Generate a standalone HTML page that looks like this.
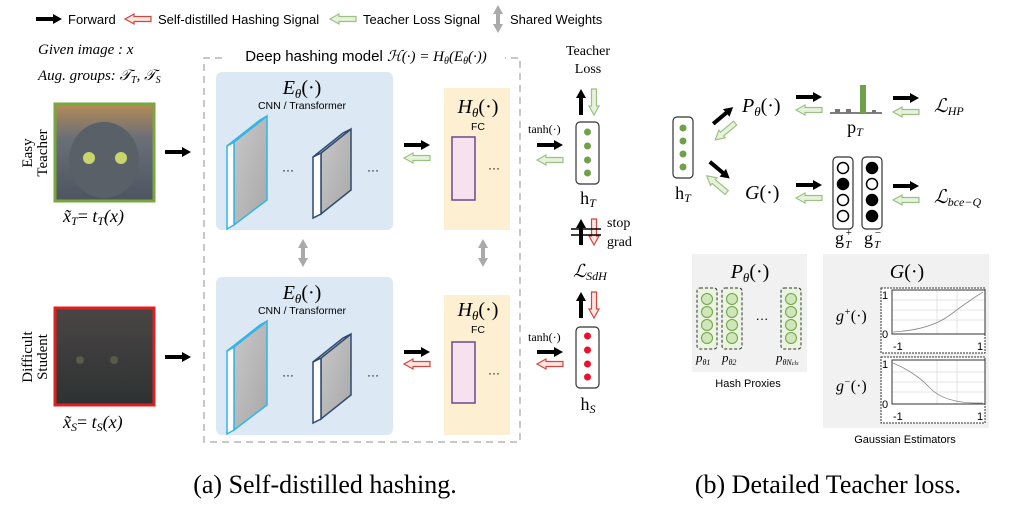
<!DOCTYPE html>
<html><head><meta charset="utf-8"><style>
html,body{margin:0;padding:0;background:#fff;}
svg{display:block;}
text{font-family:"Liberation Sans",sans-serif;}
.s{font-family:"Liberation Serif",serif;}
.i{font-family:"Liberation Serif",serif;font-style:italic;}
</style></head><body>
<svg width="1011" height="509" viewBox="0 0 1011 509" xmlns="http://www.w3.org/2000/svg">
<defs>
<polygon id="bk" points="0,3 17,3 17,0 26,5 17,10 17,7 0,7" fill="#000"/>
<polygon id="gl" points="26,2.5 9,2.5 9,0 0,5 9,10 9,7.5 26,7.5" fill="#e6f2dc" stroke="#9cc184" stroke-width="1.2"/>
<polygon id="rl" points="26,2.5 9,2.5 9,0 0,5 9,10 9,7.5 26,7.5" fill="#fde5e2" stroke="#d0473f" stroke-width="1.2"/>
<g id="gdbl"><polygon points="0,9 5,0 10,9 7,9 7,19 10,19 5,28 0,19 3,19 3,9" fill="#aaa"/></g>
<linearGradient id="cat1" x1="0" y1="0" x2="0" y2="1"><stop offset="0" stop-color="#b58b55"/><stop offset="0.35" stop-color="#6a6f78"/><stop offset="1" stop-color="#4d5560"/></linearGradient>
<linearGradient id="cat2" x1="0" y1="0" x2="0" y2="1"><stop offset="0" stop-color="#4a4545"/><stop offset="1" stop-color="#2e3232"/></linearGradient>
<linearGradient id="slab" x1="0" y1="0" x2="1" y2="1"><stop offset="0" stop-color="#c8c8c8"/><stop offset="1" stop-color="#a8a8a8"/></linearGradient>
</defs>

<!-- legend -->
<use href="#bk" x="36" y="14"/>
<text x="68" y="24" font-size="13">Forward</text>
<use href="#rl" x="125" y="14"/>
<text x="158" y="24" font-size="13">Self-distilled Hashing Signal</text>
<use href="#gl" x="330" y="14"/>
<text x="363" y="24" font-size="13">Teacher Loss Signal</text>
<use href="#gdbl" x="493" y="5"/>
<text x="510" y="24" font-size="13">Shared Weights</text>

<text x="38" y="54" class="i" font-size="15">Given image : x</text>
<text x="38" y="80" class="i" font-size="15">Aug. groups: 𝒯<tspan font-size="10" dy="3">T</tspan><tspan dy="-3">, 𝒯</tspan><tspan font-size="10" dy="3">S</tspan></text>

<!-- teacher image -->
<rect x="55" y="104" width="99" height="97" fill="url(#cat1)" stroke="#7aa63e" stroke-width="3"/>
<ellipse cx="104" cy="160" rx="35" ry="38" fill="#5a6068"/>
<circle cx="89" cy="158" r="6" fill="#c9d66a"/><circle cx="121" cy="158" r="6" fill="#c9d66a"/>
<text transform="translate(32,153) rotate(-90)" class="s" font-size="15" text-anchor="middle">Easy</text>
<text transform="translate(47,153) rotate(-90)" class="s" font-size="15" text-anchor="middle">Teacher</text>
<text x="63" y="222" class="i" font-size="18">x̃<tspan font-size="12" dy="3">T</tspan><tspan dy="-3" font-style="normal">= </tspan>t<tspan font-size="12" dy="3">T</tspan><tspan dy="-3">(x)</tspan></text>
<use href="#bk" x="165" y="147"/>

<!-- student image -->
<rect x="55" y="308" width="99" height="97" fill="url(#cat2)" stroke="#e02020" stroke-width="3"/>
<circle cx="80" cy="360" r="4" fill="#5a5a48"/><circle cx="114" cy="360" r="4" fill="#5a5a48"/>
<text transform="translate(32,357) rotate(-90)" class="s" font-size="15" text-anchor="middle">Difficult</text>
<text transform="translate(47,357) rotate(-90)" class="s" font-size="15" text-anchor="middle">Student</text>
<text x="63" y="428" class="i" font-size="18">x̃<tspan font-size="12" dy="3">S</tspan><tspan dy="-3" font-style="normal">= </tspan>t<tspan font-size="12" dy="3">S</tspan><tspan dy="-3">(x)</tspan></text>
<use href="#bk" x="165" y="352"/>

<!-- dashed model box -->
<path d="M222,58 L204,58 L204,442 L520,442 L520,58 L505,58" fill="none" stroke="#b5b5b5" stroke-width="1.5" stroke-dasharray="7,5"/>
<text x="366" y="61" font-size="15" text-anchor="middle">Deep hashing model <tspan class="i">ℋ(·) = H<tspan font-size="10" dy="3">θ</tspan><tspan dy="-3">(E</tspan><tspan font-size="10" dy="3">θ</tspan><tspan dy="-3">(·))</tspan></tspan></text>

<!-- encoder boxes -->
<g id="enc">
<rect x="216" y="72" width="177" height="158" rx="6" fill="#dce8f4"/>
<text x="302" y="94" class="i" font-size="20" text-anchor="middle">E<tspan font-size="13" dy="4">θ</tspan><tspan dy="-4" font-style="normal">(·)</tspan></text>
<text x="302" y="109" font-size="10.5" text-anchor="middle">CNN / Transformer</text>
<polygon points="234,142 267,116 267,200 234,225" fill="url(#slab)" stroke="#33b5e5" stroke-width="1.5"/>
<polygon points="227,146 234,142 234,225 227,229" fill="#fff" stroke="#33b5e5" stroke-width="1.5"/>
<polygon points="227,146 260,120 267,116 234,142" fill="#fff" stroke="#33b5e5" stroke-width="1.5"/>
<polygon points="321,153 351,129 351,190 321,214" fill="url(#slab)" stroke="#2f4a70" stroke-width="1.5"/>
<polygon points="313,157 321,153 321,214 313,218" fill="#fff" stroke="#2f4a70" stroke-width="1.5"/>
<polygon points="313,157 343,133 351,129 321,153" fill="#fff" stroke="#2f4a70" stroke-width="1.5"/>
<text x="288" y="174" font-size="12" text-anchor="middle">···</text>
<text x="373" y="174" font-size="12" text-anchor="middle">···</text>
</g>
<use href="#enc" y="205"/>

<!-- hash heads -->
<rect x="444" y="88" width="66" height="142" fill="#fcefd2"/>
<text x="478" y="113" class="i" font-size="20" text-anchor="middle">H<tspan font-size="13" dy="4">θ</tspan><tspan dy="-4" font-style="normal">(·)</tspan></text>
<text x="478" y="130" font-size="10.5" text-anchor="middle">FC</text>
<rect x="452" y="137" width="23" height="63" fill="#f8e1ee" stroke="#6b4a8e" stroke-width="1.5"/>
<text x="494" y="172" font-size="12" text-anchor="middle">···</text>
<rect x="444" y="295" width="66" height="140" fill="#fcefd2"/>
<text x="478" y="316" class="i" font-size="20" text-anchor="middle">H<tspan font-size="13" dy="4">θ</tspan><tspan dy="-4" font-style="normal">(·)</tspan></text>
<text x="478" y="333" font-size="10.5" text-anchor="middle">FC</text>
<rect x="452" y="342" width="23" height="61" fill="#f8e1ee" stroke="#6b4a8e" stroke-width="1.5"/>
<text x="494" y="377" font-size="12" text-anchor="middle">···</text>

<use href="#bk" x="404" y="140"/><use href="#gl" x="404" y="153"/>
<use href="#bk" x="404" y="347"/><use href="#rl" x="404" y="359"/>
<use href="#gdbl" x="298" y="239"/><use href="#gdbl" x="478" y="239"/>

<!-- h_T -->
<text x="528" y="133" class="s" font-size="12">tanh(·)</text>
<use href="#bk" x="537" y="140"/><use href="#gl" x="537" y="155"/>
<rect x="576" y="122" width="23" height="62" rx="4" fill="#fff" stroke="#333" stroke-width="1.2"/>
<circle cx="587.5" cy="132" r="3.5" fill="#6fa14a"/><circle cx="587.5" cy="146" r="3.5" fill="#6fa14a"/><circle cx="587.5" cy="160" r="3.5" fill="#6fa14a"/><circle cx="587.5" cy="173" r="3.5" fill="#6fa14a"/>
<text x="588" y="204" class="s" font-size="18" text-anchor="middle">h<tspan class="i" font-size="12" dy="3">T</tspan></text>
<text x="588" y="55" class="s" font-size="14" text-anchor="middle">Teacher</text>
<text x="588" y="73" class="s" font-size="14" text-anchor="middle">Loss</text>
<use href="#bk" transform="translate(576,115) rotate(-90)"/>
<use href="#gl" transform="translate(589,115) rotate(-90)"/>

<!-- stop grad -->
<use href="#bk" transform="translate(576,245) rotate(-90)"/>
<use href="#rl" transform="translate(589,245) rotate(-90)"/>
<line x1="571" y1="229" x2="601" y2="229" stroke="#000" stroke-width="1.5"/>
<line x1="571" y1="235" x2="601" y2="235" stroke="#000" stroke-width="1.5"/>
<text x="607" y="227" class="s" font-size="14">stop</text>
<text x="607" y="246" class="s" font-size="14">grad</text>
<text x="590" y="277" class="i" font-size="18" text-anchor="middle">ℒ<tspan font-size="12" dy="3">SdH</tspan></text>

<use href="#bk" transform="translate(576,318) rotate(-90)"/>
<use href="#rl" transform="translate(589,318) rotate(-90)"/>
<text x="528" y="341" class="s" font-size="12">tanh(·)</text>
<use href="#bk" x="537" y="347"/><use href="#rl" x="537" y="359"/>
<rect x="576" y="327" width="23" height="61" rx="4" fill="#fff" stroke="#333" stroke-width="1.2"/>
<circle cx="587.5" cy="336" r="3.5" fill="#e8102c"/><circle cx="587.5" cy="350" r="3.5" fill="#e8102c"/><circle cx="587.5" cy="364" r="3.5" fill="#e8102c"/><circle cx="587.5" cy="377" r="3.5" fill="#e8102c"/>
<text x="588" y="410" class="s" font-size="18" text-anchor="middle">h<tspan class="i" font-size="12" dy="3">S</tspan></text>

<!-- right panel -->
<rect x="673" y="117" width="20" height="61" rx="4" fill="#fff" stroke="#333" stroke-width="1.2"/>
<circle cx="683" cy="128" r="3.5" fill="#6fa14a"/><circle cx="683" cy="141" r="3.5" fill="#6fa14a"/><circle cx="683" cy="154" r="3.5" fill="#6fa14a"/><circle cx="683" cy="167" r="3.5" fill="#6fa14a"/>
<text x="683" y="199" class="s" font-size="18" text-anchor="middle">h<tspan class="i" font-size="12" dy="3">T</tspan></text>
<use href="#bk" transform="translate(710,120) rotate(-40)"/>
<use href="#gl" transform="translate(712,136) rotate(-40)"/>
<use href="#bk" transform="translate(713,158) rotate(40)"/>
<use href="#gl" transform="translate(710,172) rotate(40)"/>

<text x="742" y="112" class="i" font-size="20">P<tspan font-size="13" dy="4">θ</tspan><tspan dy="-4" font-style="normal">(·)</tspan></text>
<use href="#bk" x="796" y="92"/><use href="#gl" x="796" y="105"/>
<line x1="830" y1="113" x2="882" y2="113" stroke="#333" stroke-width="1.2"/>
<rect x="835" y="109" width="5" height="4" fill="#777"/><rect x="846" y="109" width="5" height="4" fill="#777"/>
<rect x="860" y="85" width="6" height="28" fill="#6fa14a"/><rect x="872" y="110" width="4" height="3" fill="#777"/>
<text x="855" y="133" class="s" font-size="18" text-anchor="middle">p<tspan class="i" font-size="12" dy="3">T</tspan></text>
<use href="#bk" x="893" y="93"/><use href="#gl" x="893" y="107"/>
<text x="934" y="112" class="i" font-size="19">ℒ<tspan font-size="12" dy="3">HP</tspan></text>

<text x="745" y="199" class="i" font-size="20">G<tspan font-style="normal">(·)</tspan></text>
<use href="#bk" x="796" y="180"/><use href="#gl" x="796" y="193"/>
<rect x="833" y="157" width="20" height="72" rx="4" fill="#fff" stroke="#333" stroke-width="1.2"/>
<rect x="862" y="157" width="20" height="72" rx="4" fill="#fff" stroke="#333" stroke-width="1.2"/>
<g stroke="#000" stroke-width="1.5">
<circle cx="843" cy="168" r="5.5" fill="#fff"/><circle cx="843" cy="184" r="5.5" fill="#000"/><circle cx="843" cy="200" r="5.5" fill="#fff"/><circle cx="843" cy="216" r="5.5" fill="#fff"/>
<circle cx="872" cy="168" r="5.5" fill="#000"/><circle cx="872" cy="184" r="5.5" fill="#fff"/><circle cx="872" cy="200" r="5.5" fill="#000"/><circle cx="872" cy="216" r="5.5" fill="#000"/>
</g>
<text x="835" y="244" class="s" font-size="18">g</text><text x="845" y="236" class="i" font-size="11">+</text><text x="845" y="248" class="i" font-size="11">T</text>
<text x="864" y="244" class="s" font-size="18">g</text><text x="874" y="236" class="i" font-size="11">−</text><text x="874" y="248" class="i" font-size="11">T</text>
<use href="#bk" x="893" y="181"/><use href="#gl" x="893" y="195"/>
<text x="934" y="203" class="i" font-size="19">ℒ<tspan font-size="12" dy="3">bce−Q</tspan></text>

<!-- hash proxies panel -->
<rect x="692" y="254" width="115" height="118" fill="#f1f1f1"/>
<text x="750" y="278" class="i" font-size="20" text-anchor="middle">P<tspan font-size="13" dy="4">θ</tspan><tspan dy="-4" font-style="normal">(·)</tspan></text>
<g id="col"><rect x="697" y="288" width="20" height="61" rx="3" fill="#eaf4e0" stroke="#333" stroke-dasharray="3,2"/>
<g fill="#cfe6b8" stroke="#6fa14a"><circle cx="707" cy="299" r="5.5"/><circle cx="707" cy="312" r="5.5"/><circle cx="707" cy="325" r="5.5"/><circle cx="707" cy="338" r="5.5"/></g></g>
<use href="#col" x="25"/><use href="#col" x="84"/>
<text x="762" y="323" font-size="13" text-anchor="middle">···</text>
<text x="696" y="362" class="i" font-size="13">p<tspan font-size="8" dy="3">θ1</tspan></text>
<text x="722" y="362" class="i" font-size="13">p<tspan font-size="8" dy="3">θ2</tspan></text>
<text x="776" y="362" class="i" font-size="13">p<tspan font-size="8" dy="3">θN<tspan font-size="6">cls</tspan></tspan></text>
<text x="748" y="387" font-size="11" text-anchor="middle">Hash Proxies</text>

<!-- gaussian panel -->
<rect x="823" y="254" width="166" height="174" fill="#f1f1f1"/>
<text x="907" y="278" class="i" font-size="20" text-anchor="middle">G<tspan font-style="normal">(·)</tspan></text>
<rect x="881" y="288" width="104" height="65" fill="#fff" stroke="#333" stroke-dasharray="2,1"/>
<rect x="881" y="357" width="104" height="66" fill="#fff" stroke="#333" stroke-dasharray="2,1"/>
<g stroke="#ddd" stroke-width="0.8">
<line x1="892" y1="300" x2="985" y2="300"/><line x1="892" y1="310" x2="985" y2="310"/><line x1="892" y1="320" x2="985" y2="320"/>
<line x1="937" y1="290" x2="937" y2="334"/><line x1="957" y1="290" x2="957" y2="334"/>
<line x1="892" y1="372" x2="985" y2="372"/><line x1="892" y1="382" x2="985" y2="382"/><line x1="892" y1="392" x2="985" y2="392"/>
<line x1="937" y1="360" x2="937" y2="404"/><line x1="957" y1="360" x2="957" y2="404"/>
</g>
<path d="M892,290 H985 V334 H892 Z" fill="none" stroke="#333"/>
<path d="M892,360 H985 V404 H892 Z" fill="none" stroke="#333"/>
<path d="M893,332 Q930,330 950,315 T983,292" fill="none" stroke="#888" stroke-width="0.8"/>
<path d="M893,363 Q915,372 930,388 T983,403" fill="none" stroke="#888" stroke-width="0.8"/>
<text x="882" y="299" font-size="11">1</text><text x="882" y="338" font-size="11">0</text>
<text x="882" y="368" font-size="11">1</text><text x="882" y="408" font-size="11">0</text>
<text x="893" y="350" font-size="11">-1</text><text x="977" y="350" font-size="11">1</text>
<text x="893" y="420" font-size="11">-1</text><text x="977" y="420" font-size="11">1</text>
<text x="836" y="321" class="i" font-size="16">g<tspan font-size="10" dy="-6">+</tspan><tspan dy="6" font-style="normal">(·)</tspan></text>
<text x="836" y="391" class="i" font-size="16">g<tspan font-size="10" dy="-6">−</tspan><tspan dy="6" font-style="normal">(·)</tspan></text>
<text x="905" y="443" font-size="11" text-anchor="middle">Gaussian Estimators</text>

<!-- captions -->
<text x="325" y="493" class="s" font-size="26" text-anchor="middle">(a) Self-distilled hashing.</text>
<text x="828" y="493" class="s" font-size="26" text-anchor="middle">(b) Detailed Teacher loss.</text>
</svg>
</body></html>
